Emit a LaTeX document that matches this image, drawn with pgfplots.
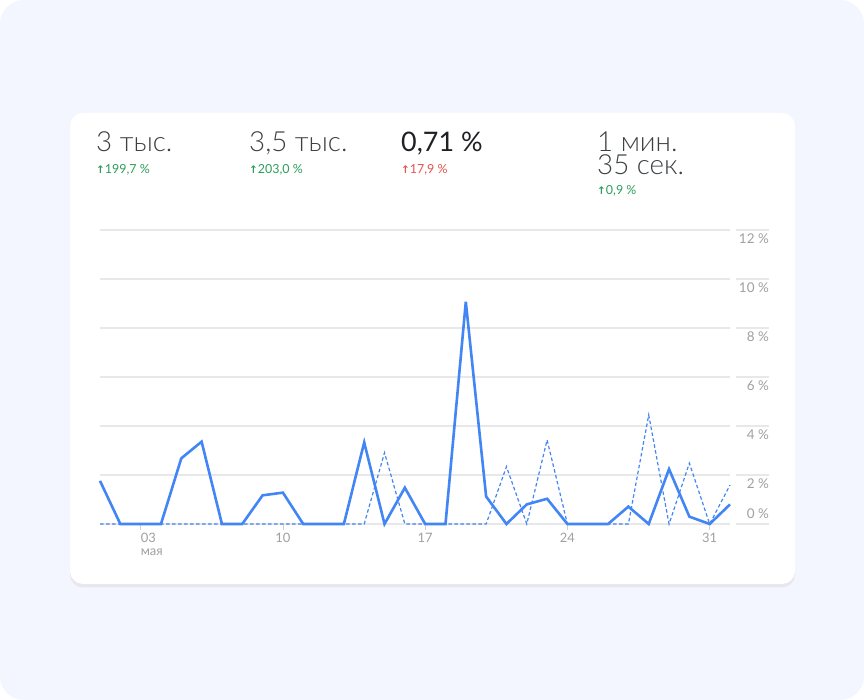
\documentclass[border=0pt]{standalone}
\usepackage{pgfplots}
\pgfplotsset{compat=1.18}
\usepackage{fontspec}
\setmainfont{Lato}
\newfontfamily\lightfont{Lato Light}
\newfontfamily\symfont{DejaVu Sans}
\definecolor{bg}{HTML}{F3F6FE}
\definecolor{gablue}{HTML}{4285F4}
\definecolor{gridc}{HTML}{E8E8E8}
\definecolor{tickc}{HTML}{A0A0A0}
\definecolor{upgreen}{HTML}{2E9E5B}
\definecolor{downred}{HTML}{E5534B}
\definecolor{dark}{HTML}{3C4043}
\definecolor{darker}{HTML}{202124}
\definecolor{shadowc}{HTML}{E6E8ED}

\pgfplotstableread{
day val
1 1.76
2 0
3 0
4 0
5 2.68
6 3.36
7 0
8 0
9 1.17
10 1.28
11 0
12 0
13 0
14 3.33
15 0
16 1.48
17 0
18 0
19 9.07
20 1.12
21 0
22 0.80
23 1.03
24 0
25 0
26 0
27 0.71
28 0
29 2.24
30 0.30
31 0
32 0.80
}\current

\pgfplotstableread{
day val
1 0
2 0
3 0
4 0
5 0
6 0
7 0
8 0
9 0
10 0
11 0
12 0
13 0
14 0
15 2.91
16 0
17 0
18 0
19 0
20 0
21 2.34
22 0
23 3.43
24 0
25 0
26 0
27 0
28 4.45
29 0
30 2.48
31 0
32 1.59
}\previous

\newcommand{\bigfont}{\lightfont\fontsize{27.8}{23.3}\selectfont}
\newcommand{\up}[2]{{\fontsize{12.5}{12.5}\selectfont\color{#1}{\symfont\fontsize{10.5}{10}\selectfont\bfseries ↑}#2}}

\begin{document}
\begin{tikzpicture}
\begin{scope}[x=1bp,y=1bp]
\fill[white] (0,0) rectangle (864,700);
\fill[bg, rounded corners=24bp] (0,0) rectangle (864,700);
% card
\fill[shadowc, rounded corners=13bp] (70,112.5) rectangle (795,585);
\fill[white, rounded corners=13bp] (70,116) rectangle (795,587);

% metrics
\node[anchor=base west, inner sep=0pt, text=dark, font=\bigfont] at (96,548.3) {3 тыс.};
\node[anchor=base west, inner sep=0pt] at (96,526) {\up{upgreen}{199,7~\%}};
\node[anchor=base west, inner sep=0pt, text=dark, font=\bigfont] at (249,548.3) {3,5 тыс.};
\node[anchor=base west, inner sep=0pt] at (249,526) {\up{upgreen}{203,0~\%}};
\node[anchor=base west, inner sep=0pt, text=darker, font=\fontsize{27}{27}\selectfont] at (401,548.3) {0,71~\%};
\node[anchor=base west, inner sep=0pt] at (401,526) {\up{downred}{17,9~\%}};
\node[anchor=base west, inner sep=0pt, text=dark, align=left, font=\bigfont] at (597,525.7) {1 мин.\\35 сек.};
\node[anchor=base west, inner sep=0pt] at (597,505) {\up{upgreen}{0,9~\%}};
\end{scope}

\begin{axis}[
  at={(100bp,176bp)}, anchor=south west,
  scale only axis, width=630bp, height=294bp,
  xmin=1, xmax=32, ymin=0, ymax=12,
  clip=false,
  axis line style={draw=none},
  ytick={0,2,4,6,8,10,12}, yticklabels={},
  ytick style={draw=none},
  ymajorgrids,
  major grid style={gridc, line width=1.3bp},
  xtick={10,17,24,31},
  xticklabels={10,17,24,31},
  xtick pos=bottom,
  tick align=outside,
  major tick length=6bp,
  xtick style={tickc!50, line width=0.8bp},
  xticklabel style={inner sep=0pt, anchor=north, yshift=-3bp, text=tickc, font=\fontsize{13}{12.5}\selectfont},
  extra x ticks={3},
  extra x tick labels={03\\мая},
  extra x tick style={xticklabel style={anchor=north west, align=left, inner sep=0pt, xshift=0bp, text=tickc, font=\fontsize{13}{12.5}\selectfont}},
]
\pgfplotsinvokeforeach{0,2,4,6,8,10,12}{
  \draw[gridc, line width=1.3bp] ([xshift=6bp]axis cs:32,#1) -- ([xshift=39bp]axis cs:32,#1);
}
\pgfplotsinvokeforeach{2,4,6,8,10,12}{
  \node[anchor=base east, inner sep=0pt, text=tickc, font=\fontsize{13.5}{13}\selectfont] at ([xshift=39bp,yshift=-14bp]axis cs:32,#1) {#1~\%};
}
\node[anchor=base east, inner sep=0pt, text=tickc, font=\fontsize{13.5}{13}\selectfont] at ([xshift=39bp,yshift=5bp]axis cs:32,0) {0~\%};

\addplot[gablue, line width=1.2bp, dash pattern=on 3.5bp off 2.5bp, mark=none] table[x=day, y=val] {\previous};
\addplot[gablue, line width=2.6bp, mark=none] table[x=day, y=val] {\current};
\end{axis}
\end{tikzpicture}
\end{document}
